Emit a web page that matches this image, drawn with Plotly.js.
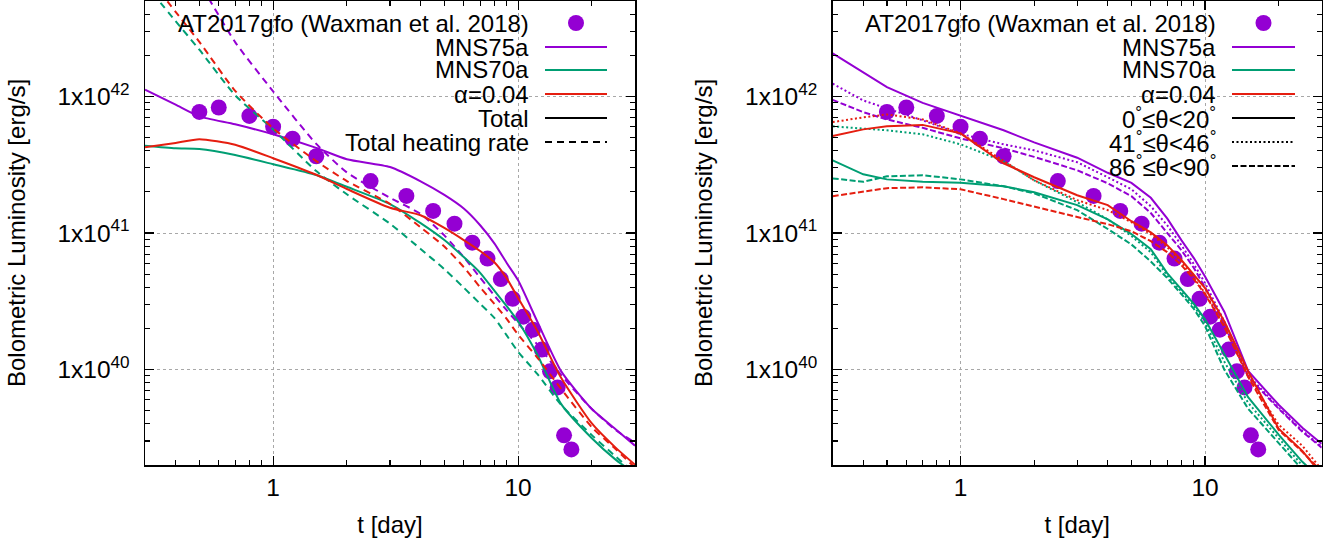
<!DOCTYPE html>
<html>
<head>
<meta charset="utf-8">
<script src="https://cdn.plot.ly/plotly-3.0.1.min.js"></script>
<style>
html,body{margin:0;padding:0;background:#fff;}
#chart{width:1331px;height:543px;}
</style>
</head>
<body>
<div id="chart"></div>
<script>
// ---------------- data ----------------
const tObs = [0.5, 0.6, 0.8, 1.0, 1.2, 1.5, 2.5, 3.5, 4.5, 5.5, 6.5, 7.5, 8.5, 9.5, 10.5, 11.5, 12.5, 13.5, 14.5, 15.4, 16.5];
const LObs = [7.7e41, 8.3e41, 7.2e41, 6.0e41, 4.9e41, 3.65e41, 2.4e41, 1.87e41, 1.45e41, 1.17e41, 8.5e40, 6.5e40, 4.6e40, 3.3e40, 2.44e40, 1.96e40, 1.4e40, 9.7e39, 7.4e39, 3.3e39, 2.6e39];

const tDay = [0.3, 0.4, 0.5, 0.7, 1, 1.5, 2, 3, 4, 5, 6, 7, 8, 9, 10, 12, 15, 20, 25, 30];

// left panel: total luminosity and total heating rate
const mns75Total = [1.12e42, 8.7e41, 7.14e41, 6.25e41, 5.28e41, 4.2e41, 3.47e41, 3.04e41, 2.39e41, 1.9e41, 1.51e41, 1.14e41, 8.4e40, 6.0e40, 4.5e40, 2.23e40, 9.7e39, 5.14e39, 3.66e39, 2.77e39];
const mns75Heat  = [2.9e43, 1.28e43, 6.8e42, 2.5e42, 1.09e42, 4.49e41, 2.78e41, 1.81e41, 1.38e41, 9.6e40, 6.65e40, 4.71e40, 3.48e40, 2.71e40, 2.18e40, 1.52e40, 9.1e39, 5.14e39, 3.61e39, 2.91e39];
const mns70Total = [4.36e41, 4.17e41, 4.12e41, 3.72e41, 3.19e41, 2.66e41, 2.18e41, 1.63e41, 1.18e41, 8.88e40, 6.66e40, 5.11e40, 3.78e40, 2.9e40, 2.25e40, 1.28e40, 5.58e39, 3.14e39, 2.19e39, 1.73e39];
const mns70Heat  = [6.67e42, 3.56e42, 2.2e42, 1.02e42, 5.74e41, 2.84e41, 1.92e41, 1.17e41, 7.64e40, 5.43e40, 3.98e40, 3.03e40, 2.39e40, 1.77e40, 1.35e40, 9.25e39, 5.5e39, 3.31e39, 2.31e39, 1.73e39];
const alphaTotal = [4.24e41, 4.57e41, 4.86e41, 4.43e41, 3.53e41, 2.67e41, 2.10e41, 1.53e41, 1.35e41, 1.09e41, 8.88e40, 7.38e40, 6.1e40, 4.63e40, 3.34e40, 1.91e40, 8.66e39, 4.03e39, 2.68e39, 2.01e39];
const alphaHeat  = [8.06e42, 4.17e42, 2.51e42, 1.10e42, 5.85e41, 3.36e41, 2.40e41, 1.63e41, 1.10e41, 7.96e40, 5.62e40, 4.0e40, 3.03e40, 2.34e40, 1.80e40, 1.22e40, 7.2e39, 3.78e39, 2.62e39, 1.91e39];

// right panel: viewing-angle dependence
const mns75Ang0  = [2.07e42, 1.51e42, 1.17e42, 8.97e41, 7.26e41, 5.65e41, 4.61e41, 3.56e41, 2.76e41, 2.33e41, 1.81e41, 1.28e41, 8.87e40, 6.55e40, 4.8e40, 2.64e40, 9.77e39, 5.52e39, 3.75e39, 2.86e39];
const mns75Ang41 = [1.24e42, 9.35e41, 8.17e41, 6.68e41, 5.32e41, 4.46e41, 4.03e41, 3.30e41, 2.56e41, 2.09e41, 1.57e41, 1.14e41, 8.15e40, 5.92e40, 4.3e40, 2.24e40, 9.14e39, 5.25e39, 3.56e39, 2.72e39];
const mns75Ang86 = [9.43e41, 7.68e41, 6.79e41, 5.89e41, 4.93e41, 4.17e41, 3.61e41, 2.88e41, 2.31e41, 1.86e41, 1.40e41, 1.01e41, 7.5e40, 5.54e40, 4.0e40, 2.12e40, 8.85e39, 5.17e39, 3.51e39, 2.68e39];
const mns70Ang0  = [3.40e41, 2.69e41, 2.47e41, 2.37e41, 2.33e41, 2.20e41, 1.99e41, 1.60e41, 1.26e41, 9.82e40, 7.62e40, 5.09e40, 3.87e40, 3.03e40, 2.33e40, 1.28e40, 6.27e39, 3.34e39, 2.11e39, 1.56e39];
const mns70Ang41 = [6.04e41, 5.79e41, 5.65e41, 5.28e41, 4.46e41, 3.35e41, 2.43e41, 1.68e41, 1.26e41, 9.5e40, 7.24e40, 4.88e40, 3.72e40, 2.92e40, 2.21e40, 1.14e40, 5.71e39, 3.12e39, 1.98e39, 1.46e39];
const mns70Ang86 = [2.51e41, 2.37e41, 2.60e41, 2.65e41, 2.47e41, 2.20e41, 1.95e41, 1.47e41, 1.07e41, 8.24e40, 6.18e40, 4.69e40, 3.57e40, 2.78e40, 2.08e40, 9.96e39, 5.17e39, 2.91e39, 1.85e39, 1.44e39];
const alphaAng0  = [5.14e41, 5.74e41, 6.04e41, 6.19e41, 5.37e41, 3.24e41, 2.56e41, 1.89e41, 1.60e41, 1.22e41, 1.01e41, 8.15e40, 6.34e40, 4.92e40, 3.95e40, 2.25e40, 9.73e39, 3.69e39, 2.54e39, 1.70e39];
const alphaAng41 = [6.49e41, 7.03e41, 7.38e41, 6.79e41, 5.37e41, 3.40e41, 2.43e41, 1.74e41, 1.47e41, 1.20e41, 9.8e40, 7.9e40, 6.12e40, 4.68e40, 3.63e40, 2.08e40, 9.0e39, 3.94e39, 2.77e39, 1.85e39];
const alphaAng86 = [1.86e41, 2.02e41, 2.13e41, 2.16e41, 2.09e41, 1.77e41, 1.57e41, 1.31e41, 1.16e41, 1.03e41, 8.72e40, 7.24e40, 5.82e40, 4.6e40, 3.57e40, 2.05e40, 8.85e39, 3.62e39, 2.50e39, 1.79e39];

const xTickVals = [1, 10];
const xTickText = ['1', '10'];
const yTickVals = [1e40, 1e41, 1e42];
const yTickText = ['1x10<sup>40</sup>', '1x10<sup>41</sup>', '1x10<sup>42</sup>'];

const obsLabel = 'AT2017gfo (Waxman et al. 2018)';
const leftLabels = ['MNS75a', 'MNS70a', '\u03b1=0.04', 'Total', 'Total heating rate'];
const rightLabels = ['MNS75a', 'MNS70a', '\u03b1=0.04',
  '0<sup>\u00b0</sup>\u2264\u03b8&lt;20<sup>\u00b0</sup>',
  '41<sup>\u00b0</sup>\u2264\u03b8&lt;46<sup>\u00b0</sup>',
  '86<sup>\u00b0</sup>\u2264\u03b8&lt;90<sup>\u00b0</sup>'];

// ---------------- style ----------------
const PURPLE = '#9400d3', GREEN = '#009e73', RED = '#e51e10';
const FONT = 'Liberation Sans, Arial, Helvetica, sans-serif';
const FS_LEG = 24, FS_TICK = 24.5, FS_TITLE = 24;
const W = 1331, H = 543, MT = 1, MB = 78;
const DASH_L = '7px,5px', DOT_R = '2px,2.5px', DASH_R = '6px,2.5px';

function line(x, y, color, dash, xa, ya, shape) {
  return {x: x, y: y, xaxis: xa, yaxis: ya, type: 'scatter', mode: 'lines',
    line: {color: color, width: 2, dash: dash, shape: shape || 'spline', smoothing: 0.6},
    showlegend: false, hoverinfo: 'skip'};
}
function dots(xa, ya) {
  return {x: tObs, y: LObs, xaxis: xa, yaxis: ya, type: 'scatter', mode: 'markers',
    marker: {color: PURPLE, size: 16, line: {width: 0}}, showlegend: false};
}

const traces = [
  dots('x', 'y'),
  line(tDay, mns75Total, PURPLE, 'solid', 'x', 'y'),
  line(tDay, mns75Heat, PURPLE, DASH_L, 'x', 'y'),
  line(tDay, mns70Total, GREEN, 'solid', 'x', 'y'),
  line(tDay, mns70Heat, GREEN, DASH_L, 'x', 'y'),
  line(tDay, alphaTotal, RED, 'solid', 'x', 'y'),
  line(tDay, alphaHeat, RED, DASH_L, 'x', 'y'),

  dots('x2', 'y2'),
  line(tDay, mns75Ang0, PURPLE, 'solid', 'x2', 'y2', 'linear'),
  line(tDay, mns75Ang41, PURPLE, DOT_R, 'x2', 'y2', 'linear'),
  line(tDay, mns75Ang86, PURPLE, DASH_R, 'x2', 'y2', 'linear'),
  line(tDay, mns70Ang0, GREEN, 'solid', 'x2', 'y2', 'linear'),
  line(tDay, mns70Ang41, GREEN, DOT_R, 'x2', 'y2', 'linear'),
  line(tDay, mns70Ang86, GREEN, DASH_R, 'x2', 'y2', 'linear'),
  line(tDay, alphaAng0, RED, 'solid', 'x2', 'y2', 'linear'),
  line(tDay, alphaAng41, RED, DOT_R, 'x2', 'y2', 'linear'),
  line(tDay, alphaAng86, RED, DASH_R, 'x2', 'y2', 'linear')
];

// minor tick positions (2..9 x decade)
function minorTicks(lo, hi) {
  const out = [];
  for (let e = Math.floor(Math.log10(lo)); e <= Math.ceil(Math.log10(hi)); e++) {
    for (let m = 2; m <= 9; m++) {
      const v = m * Math.pow(10, e);
      if (v >= lo && v <= hi) out.push(v);
    }
  }
  return out;
}
const X_LO = 0.3, X_HI = 30, Y_LO = 2e39, Y_HI = 5e42;

function xAxis(domain, anchor) {
  return {
    type: 'log', domain: domain, anchor: anchor,
    range: [Math.log10(X_LO), Math.log10(X_HI)],
    tickmode: 'array', tickvals: xTickVals, ticktext: xTickText,
    ticks: 'inside', ticklen: 9, tickwidth: 1.2, tickcolor: '#000',
    showline: true, linecolor: '#000', linewidth: 1.5, mirror: 'allticks',
    showgrid: true, gridcolor: '#a8a8a8', gridwidth: 1, griddash: 'dot',
    zeroline: false, automargin: false,
    ticklabelstandoff: 0,
    minor: {ticks: 'inside', ticklen: 5, tickwidth: 1.2, tickcolor: '#000', tickmode: 'array',
            tickvals: minorTicks(X_LO, X_HI), showgrid: false},
    tickfont: {family: FONT, size: FS_TICK, color: '#000'},
    title: {text: 't [day]', font: {family: FONT, size: FS_TITLE, color: '#000'}, standoff: 16}
  };
}
function yAxis(anchor) {
  return {
    type: 'log', domain: [0, 1], anchor: anchor,
    range: [Math.log10(Y_LO), Math.log10(Y_HI)],
    tickmode: 'array', tickvals: yTickVals, ticktext: yTickText,
    ticks: 'inside', ticklen: 9, tickwidth: 1.2, tickcolor: '#000',
    showline: true, linecolor: '#000', linewidth: 1.5, mirror: 'allticks',
    showgrid: true, gridcolor: '#a8a8a8', gridwidth: 1, griddash: 'dot',
    zeroline: false, automargin: false,
    ticklabelstandoff: 9,
    minor: {ticks: 'inside', ticklen: 5, tickwidth: 1.2, tickcolor: '#000', tickmode: 'array',
            tickvals: minorTicks(Y_LO, Y_HI), showgrid: false},
    tickfont: {family: FONT, size: FS_TICK, color: '#000'},
    title: {text: 'Bolometric Luminosity [erg/s]', font: {family: FONT, size: FS_TITLE, color: '#000'}, standoff: 25}
  };
}

// ---------------- legends (gnuplot style: text right, sample left) ----------------
const px = v => v / W;
const py = v => (H - MB - v) / (H - MT - MB);
const annotations = [], shapes = [];
function legend(textRight, lineL, lineR, rowsY, labels, samples) {
  annotations.push({xref: 'paper', yref: 'paper', x: px(textRight), y: py(rowsY[0]), xanchor: 'right', yanchor: 'middle',
    text: obsLabel, showarrow: false, font: {family: FONT, size: FS_LEG, color: '#000'}});
  const cx = (lineL + lineR) / 2, r = 8;
  shapes.push({type: 'circle', xref: 'paper', yref: 'paper', x0: px(cx - r), x1: px(cx + r),
    y0: py(rowsY[0] + r), y1: py(rowsY[0] - r), fillcolor: PURPLE, line: {width: 0}});
  labels.forEach((lab, i) => {
    const yy = rowsY[i + 1];
    annotations.push({xref: 'paper', yref: 'paper', x: px(textRight), y: py(yy), xanchor: 'right', yanchor: 'middle',
      text: lab, showarrow: false, font: {family: FONT, size: FS_LEG, color: '#000'}});
    shapes.push({type: 'line', xref: 'paper', yref: 'paper', x0: px(lineL), x1: px(lineR), y0: py(yy), y1: py(yy),
      line: {color: samples[i][0], width: 2, dash: samples[i][1]}});
  });
}
legend(531, 545, 607, [23, 47, 70, 94, 118, 142], leftLabels,
  [[PURPLE, 'solid'], [GREEN, 'solid'], [RED, 'solid'], ['#000', 'solid'], ['#000', DASH_L]]);
legend(1218, 1232, 1295, [23, 47, 70, 94, 118, 142, 166], rightLabels,
  [[PURPLE, 'solid'], [GREEN, 'solid'], [RED, 'solid'], ['#000', 'solid'], ['#000', DOT_R], ['#000', DASH_R]]);

const layout = {
  width: W, height: H,
  margin: {l: 0, r: 0, t: MT, b: MB, pad: 0},
  paper_bgcolor: '#fff', plot_bgcolor: '#fff',
  font: {family: FONT, size: FS_TICK, color: '#000'},
  showlegend: false,
  xaxis: xAxis([145 / W, 635 / W], 'y'),
  yaxis: yAxis('x'),
  xaxis2: xAxis([832.7 / W, 1321.7 / W], 'y2'),
  yaxis2: yAxis('x2'),
  annotations: annotations,
  shapes: shapes
};

Plotly.newPlot('chart', traces, layout, {displayModeBar: false, staticPlot: true});
</script>
</body>
</html>
